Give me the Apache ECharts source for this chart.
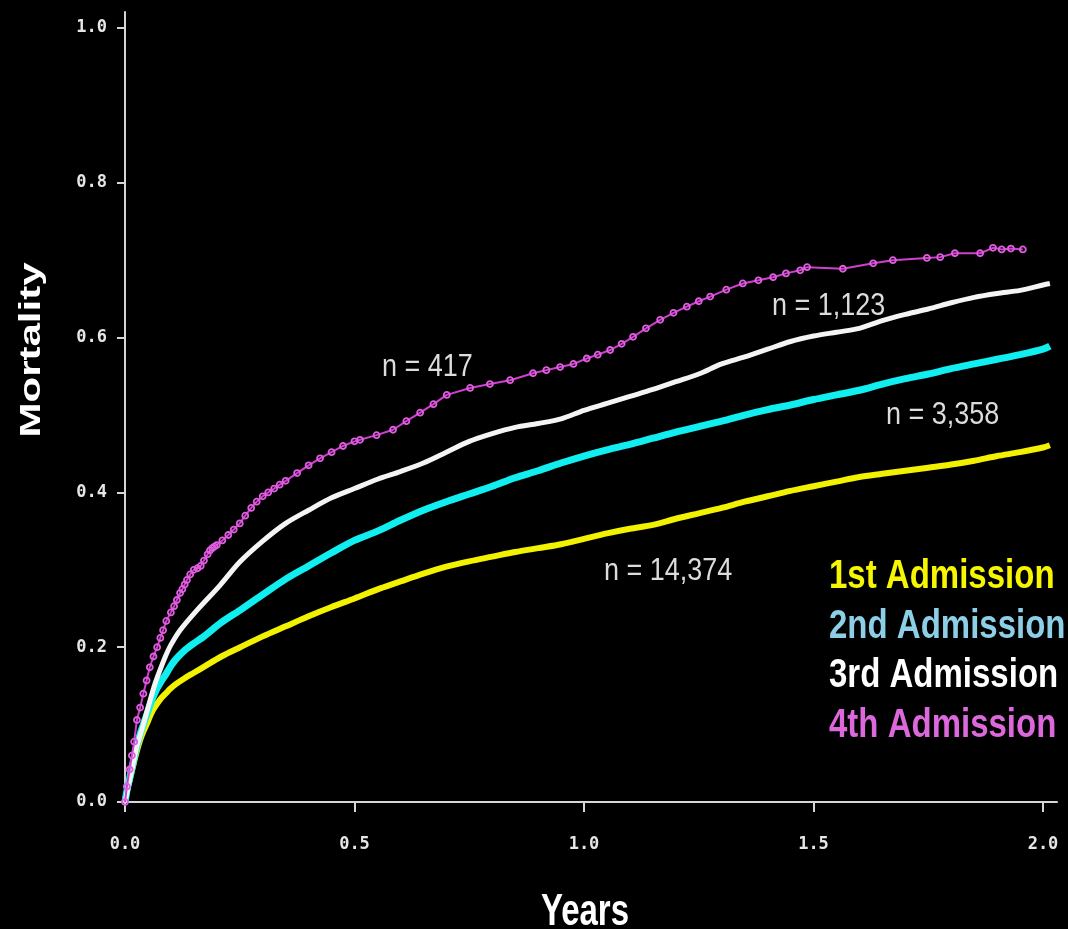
<!DOCTYPE html>
<html>
<head>
<meta charset="utf-8">
<script src="https://cdn.jsdelivr.net/npm/echarts@6/dist/echarts.min.js"></script>
<style>
html,body{margin:0;padding:0;background:#000;}
#chart{width:1068px;height:929px;}
</style>
</head>
<body>
<div id="chart"></div>
<script>
// ---- data (years, cumulative mortality) ----
const xTicks = [0, 0.5, 1.0, 1.5, 2.0];
const yTicks = [0, 0.2, 0.4, 0.6, 0.8, 1.0];

const seriesNames = ['1st Admission', '2nd Admission', '3rd Admission', '4th Admission'];
const sampleSizes = ['n = 14,374', 'n = 3,358', 'n = 1,123', 'n = 417'];

const years1 = [0,0.005,0.01,0.015,0.02,0.026,0.033,0.04,0.047,0.054,0.061,0.07,0.08,0.09,0.098,0.11,0.13,0.15,0.17,0.21,0.251,0.3,0.35,0.4,0.45,0.5,0.556,0.6,0.65,0.7,0.75,0.8,0.85,0.9,0.95,1.0,1.05,1.1,1.15,1.2,1.25,1.3,1.35,1.4,1.45,1.5,1.55,1.6,1.65,1.7,1.75,1.8,1.85,1.9,1.95,2.0,2.015];
const mort1  = [0,0.016,0.028,0.04,0.052,0.066,0.08,0.091,0.1,0.11,0.119,0.127,0.135,0.141,0.146,0.152,0.16,0.167,0.174,0.188,0.2,0.214,0.227,0.24,0.252,0.263,0.276,0.285,0.295,0.304,0.311,0.317,0.323,0.328,0.333,0.34,0.347,0.353,0.358,0.366,0.373,0.38,0.388,0.395,0.402,0.408,0.414,0.42,0.424,0.428,0.432,0.436,0.441,0.447,0.452,0.458,0.461];

const years2 = [0,0.005,0.01,0.015,0.02,0.026,0.033,0.04,0.047,0.054,0.061,0.07,0.08,0.09,0.098,0.11,0.13,0.15,0.17,0.21,0.251,0.3,0.35,0.4,0.45,0.5,0.55,0.6,0.65,0.7,0.75,0.8,0.85,0.9,0.95,1.0,1.05,1.1,1.15,1.2,1.25,1.3,1.35,1.4,1.45,1.5,1.55,1.6,1.65,1.7,1.75,1.8,1.85,1.9,1.95,2.0,2.015];
const mort2  = [0,0.017,0.03,0.044,0.058,0.073,0.088,0.1,0.112,0.124,0.135,0.147,0.157,0.166,0.174,0.184,0.196,0.205,0.213,0.232,0.248,0.268,0.288,0.305,0.322,0.338,0.35,0.364,0.377,0.388,0.398,0.408,0.419,0.428,0.438,0.447,0.455,0.462,0.47,0.478,0.485,0.492,0.5,0.507,0.513,0.52,0.526,0.532,0.54,0.547,0.553,0.56,0.566,0.572,0.578,0.585,0.589];

const years3 = [0,0.005,0.01,0.018,0.026,0.04,0.054,0.065,0.076,0.088,0.1,0.12,0.157,0.207,0.25,0.3,0.35,0.4,0.45,0.5,0.55,0.6,0.65,0.7,0.75,0.8,0.85,0.9,0.95,1.0,1.05,1.1,1.15,1.2,1.25,1.3,1.35,1.4,1.45,1.5,1.55,1.6,1.65,1.7,1.75,1.8,1.85,1.9,1.95,2.0,2.015];
const mort3  = [0,0.014,0.028,0.05,0.072,0.1,0.13,0.152,0.17,0.188,0.203,0.222,0.248,0.28,0.31,0.337,0.36,0.377,0.393,0.405,0.417,0.427,0.438,0.452,0.466,0.476,0.484,0.489,0.495,0.506,0.515,0.524,0.533,0.543,0.553,0.566,0.575,0.585,0.595,0.602,0.607,0.612,0.622,0.63,0.637,0.645,0.652,0.657,0.661,0.668,0.67];

const years4 = [0,0.004,0.01,0.015,0.02,0.026,0.033,0.04,0.047,0.054,0.062,0.07,0.077,0.083,0.09,0.1,0.107,0.113,0.12,0.125,0.13,0.135,0.142,0.15,0.158,0.165,0.172,0.18,0.185,0.19,0.195,0.2,0.212,0.225,0.237,0.25,0.262,0.275,0.287,0.3,0.312,0.325,0.337,0.35,0.375,0.4,0.425,0.45,0.475,0.5,0.512,0.548,0.584,0.613,0.643,0.672,0.701,0.752,0.795,0.839,0.889,0.918,0.948,0.977,1.006,1.03,1.057,1.082,1.107,1.135,1.166,1.195,1.224,1.25,1.275,1.31,1.346,1.38,1.412,1.44,1.471,1.486,1.564,1.63,1.673,1.747,1.776,1.808,1.863,1.891,1.91,1.93,1.956];
const mort4  = [0,0.02,0.042,0.06,0.078,0.106,0.122,0.14,0.157,0.174,0.188,0.2,0.212,0.222,0.234,0.245,0.253,0.261,0.27,0.275,0.281,0.287,0.294,0.3,0.302,0.305,0.312,0.32,0.325,0.328,0.33,0.332,0.338,0.345,0.352,0.36,0.37,0.38,0.388,0.395,0.4,0.405,0.41,0.415,0.425,0.435,0.444,0.452,0.46,0.466,0.468,0.474,0.481,0.492,0.503,0.514,0.526,0.535,0.54,0.545,0.554,0.558,0.562,0.566,0.573,0.578,0.584,0.592,0.601,0.612,0.623,0.632,0.64,0.647,0.653,0.662,0.67,0.674,0.678,0.683,0.687,0.691,0.689,0.696,0.7,0.703,0.704,0.709,0.709,0.716,0.714,0.715,0.714];

function pairs(xs, ys){ return xs.map((x,i)=>[x, ys[i]]); }

const chart = echarts.init(document.getElementById('chart'), null, {renderer:'canvas'});
const axisCol = '#d6d6d6';
const tickFont = {color:'#e6e6e6', fontFamily:'DejaVu Sans Mono', fontWeight:'bold', fontSize:17};

const option = {
  backgroundColor:'#000',
  animation:false,
  grid:{left:121, right:11, top:12, bottom:118, containLabel:false},
  xAxis:{
    type:'value', min:-0.0087, max:2.0305,
    axisLine:{show:true, lineStyle:{color:axisCol, width:2}},
    axisTick:{show:true, inside:false, length:10, customValues:xTicks, lineStyle:{color:axisCol, width:2}},
    axisLabel:Object.assign({margin:25, customValues:xTicks, formatter:v=>v.toFixed(1)}, tickFont),
    splitLine:{show:false}
  },
  yAxis:{
    type:'value', min:-0.0116, max:1.0207,
    axisLine:{show:true, lineStyle:{color:axisCol, width:2}},
    axisTick:{show:true, inside:false, length:8, customValues:yTicks, lineStyle:{color:axisCol, width:2}},
    axisLabel:Object.assign({margin:14, customValues:yTicks, formatter:v=>v.toFixed(1)}, tickFont),
    splitLine:{show:false}
  },
  series:[
    {name:seriesNames[0], type:'line', data:pairs(years1, mort1), showSymbol:false, smooth:0.3, z:2,
     lineStyle:{color:'#f2f200', width:6}},
    {name:seriesNames[1], type:'line', data:pairs(years2, mort2), showSymbol:false, smooth:0.3, z:3,
     lineStyle:{color:'#10eef0', width:7}},
    {name:seriesNames[2], type:'line', data:pairs(years3, mort3), showSymbol:false, smooth:0.3, z:4,
     lineStyle:{color:'#f4f4f4', width:5}},
    {name:seriesNames[3], type:'line', data:pairs(years4, mort4), showSymbol:true, symbol:'circle', symbolSize:6, z:5,
     lineStyle:{color:'#d040d0', width:2},
     itemStyle:{color:'rgba(0,0,0,0)', borderColor:'#e05ee0', borderWidth:1.8}}
  ],
  graphic:[
    {type:'text', x:32, y:350, rotation:Math.PI/2, scaleX:1.4,
     style:{text:'Mortality', fill:'#fff', font:'bold 30px "Liberation Sans", Arial, sans-serif', textAlign:'center', textVerticalAlign:'middle'}},
    {type:'text', x:585, y:913, scaleY:1.35,
     style:{text:'Years', fill:'#fff', font:'bold 33px "Liberation Sans", Arial, sans-serif', textAlign:'center', textVerticalAlign:'middle'}},
    {type:'text', x:829, y:577, scaleY:1.23,
     style:{text:seriesNames[0], fill:'#f6f600', font:'bold 33px "Liberation Sans", Arial, sans-serif', textAlign:'left', textVerticalAlign:'middle'}},
    {type:'text', x:829, y:627, scaleY:1.23,
     style:{text:seriesNames[1], fill:'#8ccfe6', font:'bold 33px "Liberation Sans", Arial, sans-serif', textAlign:'left', textVerticalAlign:'middle'}},
    {type:'text', x:829, y:676, scaleY:1.23,
     style:{text:seriesNames[2], fill:'#ffffff', font:'bold 33px "Liberation Sans", Arial, sans-serif', textAlign:'left', textVerticalAlign:'middle'}},
    {type:'text', x:829, y:726, scaleY:1.23,
     style:{text:seriesNames[3], fill:'#dc68dc', font:'bold 33px "Liberation Sans", Arial, sans-serif', textAlign:'left', textVerticalAlign:'middle'}},
    {type:'text', x:382, y:367, scaleY:1.18,
     style:{text:sampleSizes[3], fill:'#dcdcdc', font:'27px "Liberation Sans Narrow", "Liberation Sans", Arial, sans-serif', textAlign:'left', textVerticalAlign:'middle'}},
    {type:'text', x:772, y:306, scaleY:1.18,
     style:{text:sampleSizes[2], fill:'#dcdcdc', font:'27px "Liberation Sans Narrow", "Liberation Sans", Arial, sans-serif', textAlign:'left', textVerticalAlign:'middle'}},
    {type:'text', x:886, y:415, scaleY:1.18,
     style:{text:sampleSizes[1], fill:'#dcdcdc', font:'27px "Liberation Sans Narrow", "Liberation Sans", Arial, sans-serif', textAlign:'left', textVerticalAlign:'middle'}},
    {type:'text', x:604, y:571, scaleY:1.18,
     style:{text:sampleSizes[0], fill:'#dcdcdc', font:'27px "Liberation Sans Narrow", "Liberation Sans", Arial, sans-serif', textAlign:'left', textVerticalAlign:'middle'}}
  ]
};
chart.setOption(option);
</script>
</body>
</html>
